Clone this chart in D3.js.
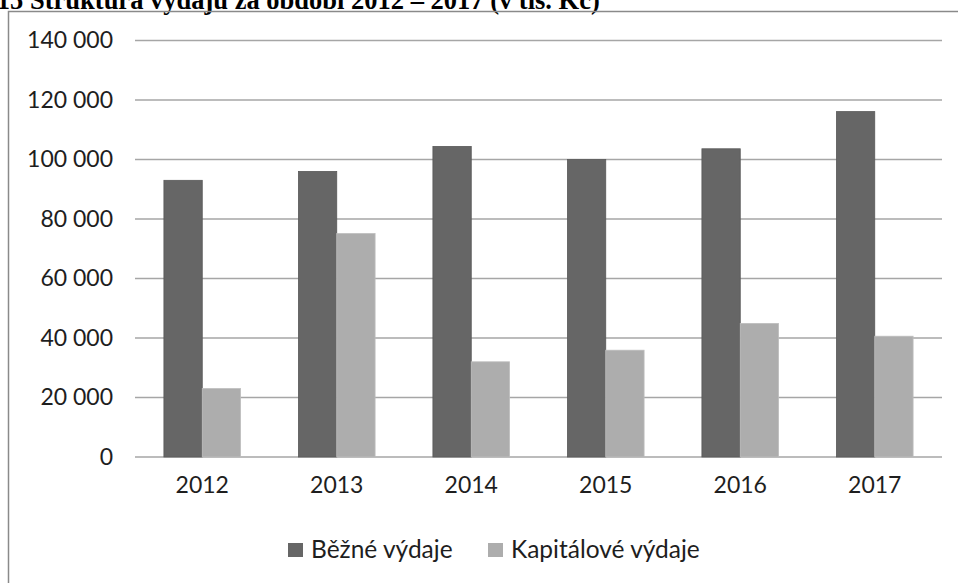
<!DOCTYPE html>
<html><head><meta charset="utf-8">
<script src="https://cdn.jsdelivr.net/npm/d3@7"></script>
<style>body{margin:0;background:#fff;}svg{display:block;}</style>
</head><body>
<svg id="c" width="958" height="583"></svg>
<script>
const years = ["2012","2013","2014","2015","2016","2017"];
const seriesNames = ["Běžné výdaje","Kapitálové výdaje"];
const bezne = [93000, 96000, 104400, 100000, 103600, 116100];
const kapitalove = [23000, 75100, 32000, 35900, 44900, 40600];
const yTicks = [0,20000,40000,60000,80000,100000,120000,140000];
const colors = ["#666666","#adadad"];
const titlePrefix = "Graf č. 15 ";
const titleMain = "Struktura výdajů za období 2012 – 2017 (v tis. Kč)";

const svg = d3.select("#c");
const W = 958, H = 583;
const m = {left:135, right:16, top:40.5, bottom:126};
const font = "Lato, 'Open Sans', sans-serif";
const txtCol = "#1e1e1e";

// title (cropped at top, as in the reference)
const tt = svg.append("text").attr("y", 9)
  .attr("font-family","'Liberation Serif','Times New Roman',serif")
  .attr("font-weight","bold").attr("font-size",26.5).attr("fill","#000");
const tp = tt.append("tspan").text(titlePrefix);
tt.append("tspan").text(titleMain);
const preLen = tp.node().getComputedTextLength();
tt.attr("x", 30 - preLen);

// frame
svg.append("path").attr("d", `M8.5,${H} V11.5 H${W}`)
  .attr("fill","none").attr("stroke","#8a8a8a").attr("stroke-width",1.5);

const x = d3.scaleBand().domain(years).range([m.left, W - m.right]).paddingInner(0.43).paddingOuter(0.215);
const xs = d3.scaleBand().domain(seriesNames).range([0, x.bandwidth()]);
const y = d3.scaleLinear().domain([0,140000]).range([H - m.bottom, m.top]);

// gridlines
svg.append("g").selectAll("line").data(yTicks).join("line")
  .attr("x1", m.left).attr("x2", W - m.right)
  .attr("y1", d => y(d)).attr("y2", d => y(d))
  .attr("stroke","#a6a6a6").attr("stroke-width",1.5);

// y axis labels
const fmt = d => d3.format(",")(d).replace(/,/g," ");
const yAxis = d3.axisLeft(y).tickValues(yTicks).tickFormat(fmt).tickSize(0).tickPadding(22);
const ga = svg.append("g").attr("transform",`translate(${m.left},0)`).call(yAxis);
ga.select(".domain").remove();
ga.selectAll("text").attr("font-family",font).attr("font-size",23).attr("fill",txtCol);

// x axis labels
const xAxis = d3.axisBottom(x).tickSize(0).tickPadding(20);
const gx = svg.append("g").attr("transform",`translate(0,${H - m.bottom})`).call(xAxis);
gx.select(".domain").remove();
gx.selectAll("text").attr("font-family",font).attr("font-size",23).attr("fill",txtCol);

// bars
const data = years.map((yr,i) => ({yr, vals:[bezne[i], kapitalove[i]]}));
const g = svg.append("g").selectAll("g").data(data).join("g")
  .attr("transform", d => `translate(${x(d.yr)},0)`);
g.selectAll("rect").data(d => d.vals.map((v,j)=>({v, s:seriesNames[j], j})))
  .join("rect")
  .attr("x", d => xs(d.s)).attr("width", xs.bandwidth())
  .attr("y", d => y(d.v)).attr("height", d => y(0) - y(d.v))
  .attr("fill", d => colors[d.j])
  .attr("stroke", d => d.j===0 ? "#5a5a5a" : "#bdbdbd").attr("stroke-width",0.8);

// legend
const legX = [288, 488];
const lg = svg.append("g").selectAll("g").data(seriesNames).join("g")
  .attr("transform",(d,i)=>`translate(${legX[i]},543)`);
lg.append("rect").attr("width",15).attr("height",14).attr("fill",(d,i)=>colors[i]);
lg.append("text").attr("x",23).attr("y",15).attr("font-family",font).attr("font-size",24.5)
  .attr("fill",txtCol).text(d=>d);
</script>
</body></html>
